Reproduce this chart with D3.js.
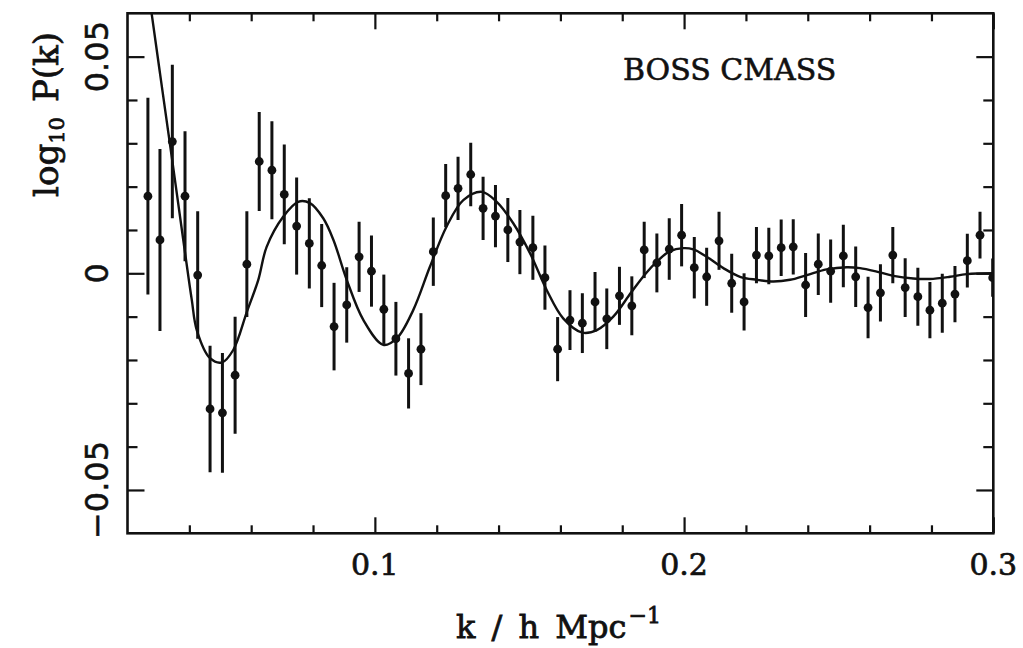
<!DOCTYPE html>
<html>
<head>
<meta charset="utf-8">
<script src="https://cdn.jsdelivr.net/npm/d3@7"></script>
<style>
  body { margin: 0; background: #fff; }
  svg { display: block; }
</style>
</head>
<body>
<div id="chart"></div>
<script>
// measured band powers (k in h/Mpc, log10 P residual, 1-sigma error)
const kVals = [
  0.0266, 0.0305, 0.0345, 0.0386, 0.0427, 0.0467, 0.0507, 0.0548, 0.0586, 0.0626,
  0.0667, 0.0707, 0.0747, 0.0788, 0.0828, 0.0868, 0.0909, 0.0949, 0.0989, 0.1029,
  0.1068, 0.1109, 0.1149, 0.1189, 0.1229, 0.1269, 0.1310, 0.1350, 0.1390, 0.1430,
  0.1469, 0.1511, 0.1550, 0.1591, 0.1631, 0.1671, 0.1712, 0.1750, 0.1791, 0.1831,
  0.1871, 0.1912, 0.1952, 0.1992, 0.2033, 0.2073, 0.2113, 0.2154, 0.2194, 0.2234,
  0.2274, 0.2314, 0.2353, 0.2393, 0.2434, 0.2474, 0.2515, 0.2555, 0.2595, 0.2635,
  0.2675, 0.2715, 0.2756, 0.2795, 0.2835, 0.2876, 0.2916, 0.2957, 0.2998
];
const logP = [
  0.0178, 0.0077, 0.0304, 0.0178, -0.0004, -0.0313, -0.0322, -0.0235, 0.0021, 0.0258,
  0.0238, 0.0182, 0.0109, 0.0069, 0.0018, -0.0123, -0.0073, 0.0038, 0.0005, -0.0083,
  -0.0151, -0.0231, -0.0175, 0.0050, 0.0179, 0.0196, 0.0228, 0.0150, 0.0132, 0.0100,
  0.0072, 0.0059, -0.0010, -0.0175, -0.0108, -0.0115, -0.0066, -0.0105, -0.0052, -0.0075,
  0.0054, 0.0024, 0.0056, 0.0088, 0.0013, -0.0008, 0.0075, -0.0023, -0.0066, 0.0042,
  0.0040, 0.0059, 0.0061, -0.0027, 0.0021, 0.0005, 0.0040, -0.0008, -0.0079, -0.0045,
  0.0042, -0.0033, -0.0054, -0.0085, -0.0069, -0.0048, 0.0029, 0.0088, -0.0010
];
const logPErr = [
  0.0227, 0.0210, 0.0177, 0.0150, 0.0147, 0.0146, 0.0138, 0.0135, 0.0122, 0.0114,
  0.0113, 0.0115, 0.0112, 0.0104, 0.0096, 0.0101, 0.0087, 0.0081, 0.0082, 0.0080,
  0.0085, 0.0081, 0.0083, 0.0079, 0.0073, 0.0073, 0.0073, 0.0073, 0.0072, 0.0074,
  0.0074, 0.0074, 0.0074, 0.0074, 0.0069, 0.0069, 0.0069, 0.0070, 0.0067, 0.0068,
  0.0065, 0.0068, 0.0071, 0.0072, 0.0071, 0.0067, 0.0067, 0.0068, 0.0066, 0.0065,
  0.0065, 0.0065, 0.0064, 0.0074, 0.0071, 0.0073, 0.0072, 0.0070, 0.0071, 0.0066,
  0.0065, 0.0068, 0.0067, 0.0065, 0.0068, 0.0065, 0.0062, 0.0054, 0.0044
];

// best-fit model curve
const modelK = [
  0.0266, 0.0278, 0.0305, 0.0345, 0.0386, 0.0408, 0.0424, 0.0467, 0.0505, 0.0542,
  0.0586, 0.0623, 0.0650, 0.0704, 0.0752, 0.0790, 0.0833, 0.0866, 0.0909, 0.0963,
  0.1027, 0.1071, 0.1124, 0.1178, 0.1232, 0.1286, 0.1346, 0.1394, 0.1448, 0.1502,
  0.1556, 0.1609, 0.1671, 0.1718, 0.1771, 0.1828, 0.1874, 0.1912, 0.1952, 0.1998,
  0.2030, 0.2073, 0.2127, 0.2181, 0.2235, 0.2289, 0.2343, 0.2397, 0.2461, 0.2526,
  0.2569, 0.2623, 0.2677, 0.2741, 0.2795, 0.2860, 0.2914, 0.3000
];
const modelLogP = [
  0.0661, 0.0600, 0.0462, 0.0259, 0.0048, -0.0062, -0.0131, -0.0196, -0.0206, -0.0177,
  -0.0089, -0.0015, 0.0061, 0.0131, 0.0165, 0.0162, 0.0127, 0.0077, -0.0015, -0.0108,
  -0.0165, -0.0150, -0.0085, 0.0015, 0.0108, 0.0169, 0.0188, 0.0165, 0.0115, 0.0046,
  -0.0039, -0.0104, -0.0137, -0.0131, -0.0100, -0.0045, -0.0002, 0.0027, 0.0050, 0.0058,
  0.0055, 0.0038, 0.0012, -0.0008, -0.0015, -0.0019, -0.0015, -0.0004, 0.0009, 0.0014,
  0.0012, 0.0004, -0.0006, -0.0012, -0.0013, -0.0008, -0.0002, 0.0000
];

const xMajor = [0.1, 0.2, 0.3];
const xMinor = [0.04, 0.06, 0.08, 0.12, 0.14, 0.16, 0.18, 0.22, 0.24, 0.26, 0.28];
const yMajor = [-0.05, 0, 0.05];
const yMinor = [-0.04, -0.03, -0.02, -0.01, 0.01, 0.02, 0.03, 0.04];
const yLabels = ["\u22120.05", "0", "0.05"];

const width = 1023;
const height = 648;
const plotL = 127.5, plotR = 993.3, plotT = 13.3, plotB = 533.3;
const ink = "#111";

const x = d3.scaleLinear().domain([0.02, 0.3]).range([plotL, plotR]);
const y = d3.scaleLinear().domain([-0.06, 0.06]).range([plotB, plotT]);

const svg = d3.select("#chart").append("svg")
  .attr("width", width)
  .attr("height", height);

svg.append("clipPath").attr("id", "plotClip")
  .append("rect")
  .attr("x", plotL).attr("y", plotT)
  .attr("width", plotR - plotL).attr("height", plotB - plotT);

// ticks on all four sides, pointing inward
const addTicks = (axisFn, scale, values, size, transform) => {
  const g = svg.append("g")
    .attr("transform", transform)
    .call(axisFn(scale).tickValues(values).tickSize(size).tickFormat(""));
  g.select(".domain").remove();
  g.selectAll("line").attr("stroke", ink).attr("stroke-width", 2.2);
};

addTicks(d3.axisBottom, x, xMinor, -8, `translate(0,${plotB})`);
addTicks(d3.axisBottom, x, xMajor, -16, `translate(0,${plotB})`);
addTicks(d3.axisTop, x, xMinor, -8, `translate(0,${plotT})`);
addTicks(d3.axisTop, x, xMajor, -16, `translate(0,${plotT})`);
addTicks(d3.axisLeft, y, yMinor, -10, `translate(${plotL},0)`);
addTicks(d3.axisLeft, y, yMajor, -17, `translate(${plotL},0)`);
addTicks(d3.axisRight, y, yMinor, -10, `translate(${plotR},0)`);
addTicks(d3.axisRight, y, yMajor, -17, `translate(${plotR},0)`);

// frame
svg.append("rect")
  .attr("x", plotL).attr("y", plotT)
  .attr("width", plotR - plotL).attr("height", plotB - plotT)
  .attr("fill", "none")
  .attr("stroke", ink)
  .attr("stroke-width", 2.6);

const data = kVals.map((k, i) => ({ k, v: logP[i], e: logPErr[i] }));
const model = modelK.map((k, i) => ({ k, v: modelLogP[i] }));

const plot = svg.append("g").attr("clip-path", "url(#plotClip)");

plot.append("path")
  .datum(model)
  .attr("fill", "none")
  .attr("stroke", ink)
  .attr("stroke-width", 2.4)
  .attr("d", d3.line()
    .x((d) => x(d.k))
    .y((d) => y(d.v))
    .curve(d3.curveCatmullRom.alpha(0.5)));

plot.selectAll(".err")
  .data(data)
  .join("line")
  .attr("class", "err")
  .attr("x1", (d) => x(d.k))
  .attr("x2", (d) => x(d.k))
  .attr("y1", (d) => y(d.v - d.e))
  .attr("y2", (d) => y(d.v + d.e))
  .attr("stroke", ink)
  .attr("stroke-width", 3);

plot.selectAll(".pt")
  .data(data)
  .join("circle")
  .attr("class", "pt")
  .attr("cx", (d) => x(d.k))
  .attr("cy", (d) => y(d.v))
  .attr("r", 4.4)
  .attr("fill", ink);

// text is drawn with a thin outline to match the heavier plotting font
const heavy = (sel, w) => sel.attr("fill", ink).attr("stroke", ink).attr("stroke-width", w);

// tick labels
svg.selectAll(".xlab")
  .data(xMajor)
  .join("text")
  .attr("class", "xlab")
  .attr("x", (d) => x(d))
  .attr("y", 575)
  .attr("text-anchor", "middle")
  .attr("font-family", "DejaVu Serif")
  .attr("font-size", 30)
  .call(heavy, 0.7)
  .text((d) => d3.format(".1f")(d));

svg.selectAll(".ylab")
  .data(yMajor)
  .join("text")
  .attr("class", "ylab")
  .attr("transform", (d) => `translate(108,${y(d)}) rotate(-90)`)
  .attr("text-anchor", "middle")
  .attr("font-family", "DejaVu Sans")
  .attr("font-size", 32)
  .call(heavy, 0.5)
  .text((d, i) => yLabels[i]);

// axis titles
const yTitle = svg.append("text")
  .attr("transform", "translate(58,114.5) rotate(-90)")
  .attr("text-anchor", "middle")
  .attr("font-family", "DejaVu Serif")
  .attr("font-size", 34)
  .call(heavy, 0.8);
yTitle.append("tspan").text("log");
yTitle.append("tspan").attr("font-size", 21).attr("dy", 6).text("10");
yTitle.append("tspan").attr("dy", -6).attr("dx", 15).text("P(k)");

const xTitle = svg.append("text")
  .attr("x", 456)
  .attr("y", 638)
  .attr("font-family", "DejaVu Serif")
  .attr("font-size", 32)
  .attr("word-spacing", 6)
  .call(heavy, 0.8);
xTitle.append("tspan").text("k / h Mpc");
xTitle.append("tspan").attr("font-size", 22).attr("dx", 2).attr("dy", -15).text("\u22121");

svg.append("text")
  .attr("x", 623)
  .attr("y", 80)
  .attr("font-family", "DejaVu Serif")
  .attr("font-size", 30)
  .call(heavy, 0.6)
  .text("BOSS CMASS");
</script>
</body>
</html>
